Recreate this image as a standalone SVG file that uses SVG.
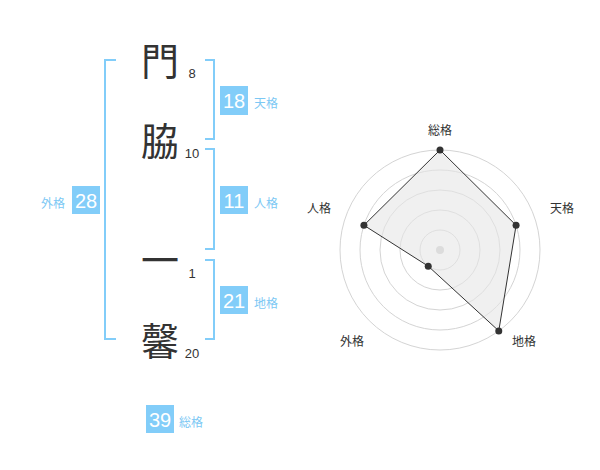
<svg xmlns="http://www.w3.org/2000/svg" width="600" height="470" viewBox="0 0 600 470">
<style>
.ch{font-family:"Noto Sans CJK JP","Noto Sans CJK SC",sans-serif;font-size:38px;fill:#333;text-anchor:middle}
.num{font-family:"Liberation Sans",Arial,sans-serif;font-size:13px;fill:#333;text-anchor:middle}
.box{fill:#82cdf9}
.bn{font-family:"Liberation Sans",Arial,sans-serif;font-size:20px;fill:#fff;text-anchor:middle}
.lb{font-family:"Noto Sans CJK JP",sans-serif;font-size:12px;fill:#7cc8f4}
.br{fill:none;stroke:#82cdf9;stroke-width:2}
.ring{fill:none;stroke:#d4d4d4;stroke-width:1}
.rl{font-family:"Noto Sans CJK JP",sans-serif;font-size:12px;fill:#333;text-anchor:middle}
.dot{fill:#333}
</style>
<rect width="600" height="470" fill="#fff"/>
<g id="brackets">
<path class="br" d="M116,60 H105 V339 H116"/>
<path class="br" d="M205,60 H214 V139 H205"/>
<path class="br" d="M205,149 H214 V249 H205"/>
<path class="br" d="M205,260 H214 V339 H205"/>
</g>
<g id="char1"><text class="ch" x="160" y="75">門</text><text class="num" x="192" y="78">8</text></g>
<g id="char2"><text class="ch" x="160" y="155">脇</text><text class="num" x="192" y="158">10</text></g>
<g id="char3"><text class="ch" x="160" y="274">一</text><text class="num" x="192" y="278">1</text></g>
<g id="char4"><text class="ch" x="160" y="355">馨</text><text class="num" x="192" y="358">20</text></g>
<g id="tenkaku"><rect class="box" x="220" y="86" width="28" height="29"/><text class="bn" x="234" y="108">18</text><text class="lb" x="254" y="108">天格</text></g>
<g id="jinkaku"><rect class="box" x="220" y="186" width="28" height="28"/><text class="bn" x="234" y="208">11</text><text class="lb" x="254" y="208">人格</text></g>
<g id="chikaku"><rect class="box" x="220" y="286" width="28" height="28"/><text class="bn" x="234" y="308">21</text><text class="lb" x="254" y="308">地格</text></g>
<g id="gaikaku"><rect class="box" x="72" y="186" width="28" height="28"/><text class="bn" x="86" y="208">28</text><text class="lb" x="65" y="208" text-anchor="end">外格</text></g>
<g id="soukaku"><rect class="box" x="146" y="405" width="28" height="28"/><text class="bn" x="160" y="427">39</text><text class="lb" x="179" y="427">総格</text></g>
<g id="radar">
<circle class="ring" cx="440" cy="250" r="20"/>
<circle class="ring" cx="440" cy="250" r="40"/>
<circle class="ring" cx="440" cy="250" r="60"/>
<circle class="ring" cx="440" cy="250" r="80"/>
<circle class="ring" cx="440" cy="250" r="100"/>
<circle cx="440" cy="250" r="4" fill="#ccc"/>
<polygon points="440,150 516.08,225.28 498.78,330.9 428.24,266.18 363.92,225.28" fill="#e6e6e6" fill-opacity="0.6" stroke="#333" stroke-width="1"/>
<circle class="dot" cx="440" cy="150" r="3.5"/>
<circle class="dot" cx="516.08" cy="225.28" r="3.5"/>
<circle class="dot" cx="498.78" cy="330.9" r="3.5"/>
<circle class="dot" cx="428.24" cy="266.18" r="3.5"/>
<circle class="dot" cx="363.92" cy="225.28" r="3.5"/>
<text class="rl" x="440" y="135">総格</text>
<text class="rl" x="562" y="213">天格</text>
<text class="rl" x="524" y="346">地格</text>
<text class="rl" x="352" y="346">外格</text>
<text class="rl" x="319" y="213">人格</text>
</g>
</svg>
